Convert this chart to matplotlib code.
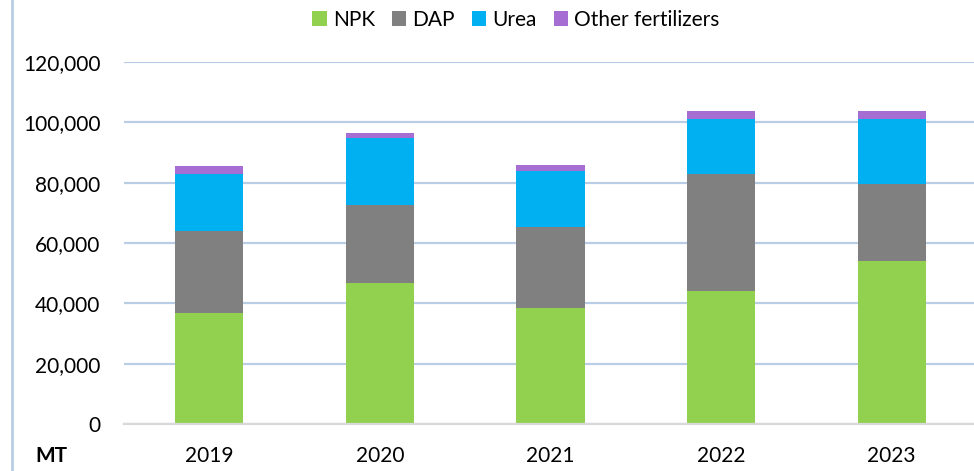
import matplotlib
matplotlib.use("Agg")
import matplotlib.pyplot as plt
from matplotlib.lines import Line2D
from matplotlib.ticker import FuncFormatter

years = ["2019", "2020", "2021", "2022", "2023"]
npk = [36800, 46700, 38400, 44000, 53900]
dap = [27200, 25800, 27000, 38800, 25800]
urea = [19000, 22400, 18600, 18400, 21500]
other = [2500, 1500, 1900, 2600, 2600]
series = [("NPK", npk, "#92D050"), ("DAP", dap, "#808080"),
          ("Urea", urea, "#00B0F0"), ("Other fertilizers", other, "#A66DD3")]

plt.rcParams['font.family'] = ['Lato', 'DejaVu Sans']
fig = plt.figure(figsize=(9.74, 4.71), dpi=100)
W, H = 974, 471
ax = fig.add_axes([124 / W, (H - 424) / H, (977 - 124) / W, 362 / H])

x = list(range(len(years)))
bottom = [0] * len(years)
for name, vals, col in series:
    ax.bar(x, vals, width=0.4, bottom=bottom, color=col, zorder=3, label=name)
    bottom = [b + v for b, v in zip(bottom, vals)]

ax.set_xlim(-0.5, len(years) - 0.5)
ax.set_ylim(0, 120000)
ax.set_yticks(range(0, 120001, 20000))
ax.yaxis.set_major_formatter(FuncFormatter(lambda v, p: f"{int(v):,}"))
ax.set_xticks(x)
ax.set_xticklabels(years)
ax.grid(axis='y', color='#B9CDE4', linewidth=1.6, zorder=0)
ax.grid(axis='x', visible=False)
for s in ['top', 'right', 'left']:
    ax.spines[s].set_visible(False)
ax.spines['bottom'].set_color('#D9D9D9')
ax.spines['bottom'].set_linewidth(1.6)
ax.spines['bottom'].set_zorder(4)
ax.tick_params(axis='both', length=0, labelsize=15, colors='#000000')
ax.tick_params(axis='y', pad=17)
ax.tick_params(axis='x', pad=16)

h, l = ax.get_legend_handles_labels()
fig.legend(h, l, loc='center', bbox_to_anchor=(516 / W, 1 - 20 / H), ncol=4,
           frameon=False, fontsize=15, handlelength=0.7, handleheight=0.7,
           handletextpad=0.3, columnspacing=0.8)

fig.add_artist(Line2D([12 / W, 12 / W], [0, 1], color='#B9CDE4', linewidth=2))
fig.text(35 / W, 5 / H, "MT", fontsize=15, fontweight='bold', va='bottom', ha='left')

fig.savefig("out.png", dpi=100)
